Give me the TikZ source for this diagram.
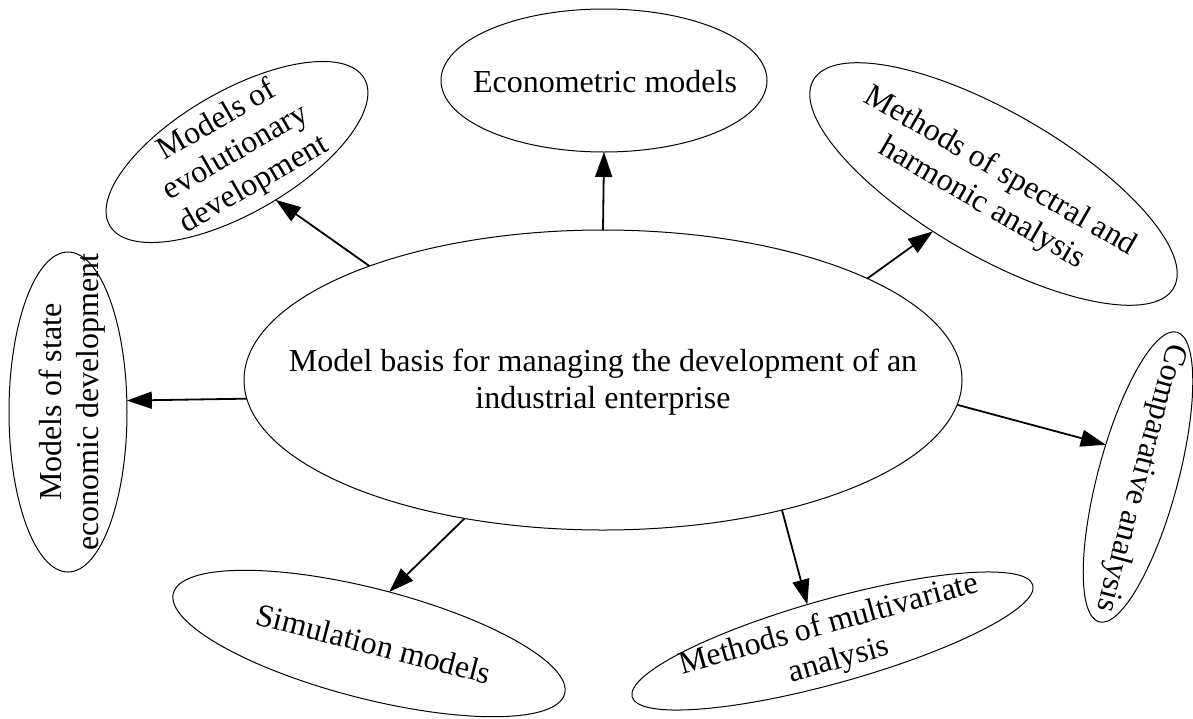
\documentclass[tikz,border=0pt]{standalone}
\usepackage{fontspec}
\setmainfont{Liberation Serif}
\usetikzlibrary{shapes.geometric,arrows.meta}
\begin{document}
\begin{tikzpicture}[x=1pt,y=-1pt,
  oval/.style={draw, ellipse, line width=1pt, inner sep=0pt, outer sep=0pt},
  lbl/.style={font=\fontsize{32pt}{36.8pt}\selectfont, align=center, inner sep=0pt},
  one/.style={lbl, text height=22pt, text depth=7pt},
  conn/.style={line width=1.8pt, -{Triangle[length=25pt,width=17pt]}}]
\path[use as bounding box] (0,0) rectangle (1193,718);
% central
\node[oval, minimum width=718pt, minimum height=300pt] (core) at (603,380) {};
\node[lbl] (coreT) at (603,382) {Model basis for managing the development of an\\industrial enterprise};
% outer ellipses
\node[oval, minimum width=326pt, minimum height=143pt] (econ) at (604,80.5) {};
\node[lbl, anchor=base] (econT) at (605,92) {Econometric models};
\node[oval, minimum width=294pt, minimum height=122pt, rotate=30] (evo) at (237,152) {};
\node[lbl, rotate=30] (evoT) at (236,153) {Models of\\evolutionary\\development};
\node[oval, minimum width=416pt, minimum height=144pt, rotate=-30] (spec) at (993.5,184) {};
\node[lbl, rotate=-30] (specT) at (991,188) {Methods of spectral and\\harmonic analysis};
\node[oval, minimum width=118pt, minimum height=320pt] (state) at (68,412) {};
\node[lbl, rotate=90] (stateT) at (72,402) {Models of state\\economic development};
\node[oval, minimum width=300pt, minimum height=80pt, rotate=75] (comp) at (1138,477) {};
\node[one, rotate=-105] (compT) at (1140,478) {Comparative analysis};
\node[oval, minimum width=404pt, minimum height=110pt, rotate=-14.4] (sim) at (369,643.5) {};
\node[one, rotate=-14.4] (simT) at (373,647) {Simulation models};
\node[oval, minimum width=416pt, minimum height=84pt, rotate=15.6] (multi) at (832.5,641) {};
\node[lbl, rotate=15.6] (multiT) at (834,643) {Methods of multivariate\\analysis};
% connectors
\draw[conn] (core.north) -- (econ.south);
\draw[conn] (core.154) -- (evo.-81);
\draw[conn] (core.21) -- (spec.-112);
\draw[conn] (core.183) -- (state.11);
\draw[conn] (core.-4) -- (comp.60);
\draw[conn] (core.-135) -- (sim.83);
\draw[conn] (core.-36) -- (multi.109);
\end{tikzpicture}
\end{document}
